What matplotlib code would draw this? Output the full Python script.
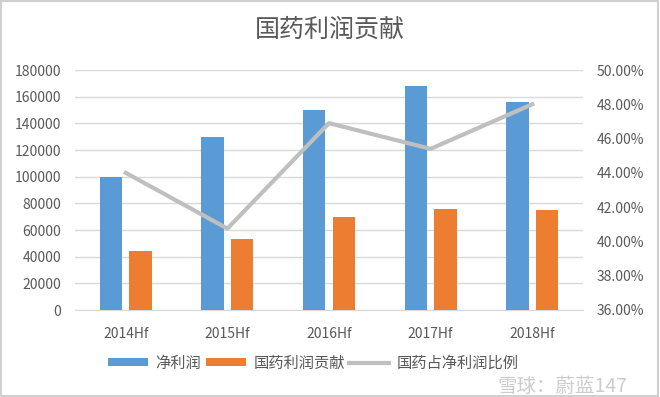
import numpy as np
import matplotlib.pyplot as plt
from matplotlib.patches import Rectangle
from matplotlib.ticker import FuncFormatter

plt.rcParams['font.family'] = ['Noto Sans CJK SC', 'DejaVu Sans']

years = ['2014Hf', '2015Hf', '2016Hf', '2017Hf', '2018Hf']
net_profit = [100000, 130000, 150000, 168000, 156000]
sinopharm = [44000, 53000, 70000, 76000, 75000]
ratio = [44.0, 40.75, 46.9, 45.4, 48.0]

blue = '#5b9bd5'
orange = '#ed7d31'
grey = '#bfbfbf'
txt = '#595959'

fig = plt.figure(figsize=(6.6, 3.97), dpi=100)
ax = fig.add_axes([75 / 660, 1 - 310 / 397, 508 / 660, 240 / 397])
ax2 = ax.twinx()

x = np.arange(len(years))
w = 0.22
ax.bar(x - 0.145, net_profit, w, color=blue, label='净利润', zorder=3)
ax.bar(x + 0.145, sinopharm, w, color=orange, label='国药利润贡献', zorder=3)
ax2.plot(x, ratio, color=grey, lw=3, label='国药占净利润比例', zorder=4)

ax.set_xlim(-0.5, 4.5)
ax.set_ylim(0, 180000)
ax.set_yticks(range(0, 180001, 20000))
ax2.set_ylim(36, 50)
ax2.set_yticks(np.arange(36, 50.1, 2))
ax2.yaxis.set_major_formatter(FuncFormatter(lambda v, p: f'{v:.2f}%'))

ax.set_xticks(x)
ax.set_xticklabels(years)
ax.grid(axis='y', color='#d9d9d9', lw=1, zorder=0)
for a in (ax, ax2):
    for s in a.spines.values():
        s.set_visible(False)
    a.tick_params(length=0, colors=txt, labelsize=10)
ax.spines['bottom'].set_visible(True)
ax.spines['bottom'].set_color('#d9d9d9')
ax.tick_params(axis='x', pad=12)
ax.tick_params(axis='y', pad=10)
ax2.tick_params(axis='y', pad=10)

fig.text(0.5, 1 - 30 / 397, '国药利润贡献', ha='center', va='center', fontsize=18, color=txt)

h1, l1 = ax.get_legend_handles_labels()
h2, l2 = ax2.get_legend_handles_labels()
fig.legend(h1 + h2, l1 + l2, loc='center', bbox_to_anchor=(0.475, 1 - 363 / 397), ncol=3,
           frameon=False, fontsize=11, labelcolor=txt, handlelength=2.6, handleheight=0.5,
           columnspacing=0.3, handletextpad=0.5)

# watermark
fig.text(0.95, 1 - 386 / 397, '雪球：蔚蓝147', ha='right', va='center', fontsize=14,
         color='#9a9a9a', alpha=0.5)

fig.patches.append(Rectangle((0.002, 0.003), 0.995, 0.994, transform=fig.transFigure,
                             fill=False, ec='#d0d0d0', lw=1.5))

fig.savefig('out.png', dpi=100)
